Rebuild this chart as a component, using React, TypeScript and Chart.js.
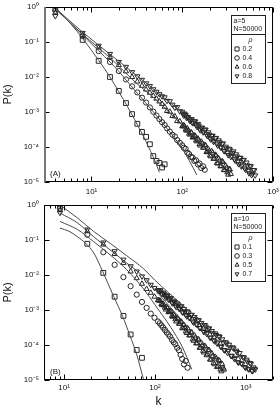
import React, { useEffect, useRef } from 'react';
import { Chart, registerables } from 'chart.js';

Chart.register(...registerables);

// ---------------- Panel A : a=5, N=50000 ----------------
const kA = [4, 8, 12, 16, 20, 24, 28, 32, 36, 40, 44, 48, 52, 56, 60, 64, 68, 73, 78, 83, 88, 94, 100,
  104, 109, 114, 119, 125, 130, 136, 142, 149, 155, 162, 170, 177, 185, 194, 202, 211, 221, 231, 241,
  252, 264, 275, 288, 301, 314, 328, 343, 359, 375, 392, 409, 428, 447, 467, 488, 510, 533, 557, 582, 608, 636];
const kAmid = [102, 106, 111, 116, 122, 127, 133, 139, 145, 152, 158, 166, 173, 181, 189, 198, 206, 216, 226,
  236, 246, 258, 269, 281, 294, 307, 321, 335, 351, 367, 383, 400, 418, 437, 457, 477, 499, 521, 545, 569, 595, 622];

const pA02 = [0.9, 0.115, 2.9e-2, 1.0e-2, 4.0e-3, 1.8e-3, 8.7e-4, 4.6e-4, 2.7e-4, 1.95e-4, 1.2e-4, 5.5e-5,
  4.0e-5, 3.5e-5, 2.6e-5, 3.2e-5];

const pA04 = [0.78, 0.148, 5.5e-2, 2.69e-2, 1.48e-2, 8.5e-3, 5.4e-3, 3.63e-3, 2.57e-3, 1.86e-3, 1.35e-3, 1.02e-3,
  7.9e-4, 6.3e-4, 5.1e-4, 4.27e-4, 3.39e-4, 2.75e-4, 2.24e-4, 2.0e-4, 1.58e-4, 1.32e-4, 1.12e-4,
  9.5e-5, 8.9e-5, 6.9e-5, 6.3e-5, 5.25e-5, 5.0e-5, 4.0e-5, 4.17e-5, 3.16e-5, 3.39e-5, 2.5e-5, 2.8e-5, 2.24e-5];

const pA06 = [0.68, 0.158, 6.9e-2, 3.7e-2, 2.19e-2, 1.45e-2, 1.0e-2, 7.4e-3, 5.6e-3, 4.37e-3, 3.55e-3, 2.88e-3,
  2.4e-3, 2.0e-3, 1.7e-3, 1.41e-3, 1.07e-3, 1.02e-3, 7.7e-4, 7.5e-4, 5.5e-4, 5.4e-4, 3.9e-4,
  4.17e-4, 3.16e-4, 3.39e-4, 2.4e-4, 2.63e-4, 1.86e-4, 2.14e-4, 1.55e-4, 1.74e-4, 1.2e-4, 1.43e-4, 9.5e-5,
  1.15e-4, 7.2e-5, 8.7e-5, 5.75e-5, 7.6e-5, 4.57e-5, 6.0e-5, 3.47e-5, 4.7e-5, 2.8e-5, 3.9e-5, 2.2e-5,
  2.95e-5, 1.9e-5, 2.3e-5, 1.7e-5];
const pA06mid = [3.93e-4, 3.9e-4, 2.94e-4, 2.95e-4, 2.25e-4, 2.5e-4, 1.93e-4, 2.07e-4, 1.45e-4, 1.54e-4,
  1.1e-4, 1.28e-4, 9.6e-5, 1.1e-4, 7.1e-5, 7.6e-5, 5.4e-5, 6.8e-5, 4.7e-5, 5.7e-5, 3.37e-5, 4.1e-5,
  2.86e-5, 3.7e-5, 2.18e-5, 2.56e-5, 1.62e-5, 2.3e-5];

const pA08 = [0.55, 0.182, 7.8e-2, 4.57e-2, 2.69e-2, 1.95e-2, 1.38e-2, 1.05e-2, 8.3e-3, 6.6e-3, 5.5e-3, 4.47e-3,
  3.8e-3, 3.24e-3, 2.82e-3, 2.63e-3, 2.09e-3, 2.04e-3, 1.62e-3, 1.33e-3, 1.38e-3, 1.05e-3, 1.02e-3,
  7.9e-4, 8.3e-4, 7.3e-4, 6.1e-4, 6.2e-4, 4.8e-4, 5.4e-4, 4.27e-4, 4.57e-4, 3.3e-4, 3.55e-4, 2.63e-4,
  3.1e-4, 2.34e-4, 2.63e-4, 1.82e-4, 2.09e-4, 1.41e-4, 1.78e-4, 1.26e-4, 1.55e-4, 9.8e-5, 1.2e-4, 7.8e-5,
  1.02e-4, 6.9e-5, 8.9e-5, 5.2e-5, 6.8e-5, 4.5e-5, 6.2e-5, 3.8e-5, 4.9e-5, 2.8e-5, 4.2e-5, 2.45e-5,
  3.6e-5, 2.1e-5, 2.9e-5, 1.58e-5, 2.2e-5, 1.55e-5];
const pA08mid = [8.9e-4, 9.0e-4, 6.9e-4, 7.1e-4, 5.5e-4, 6.2e-4, 4.9e-4, 5.4e-4, 3.8e-4, 4.1e-4, 3.0e-4,
  3.56e-4, 2.71e-4, 3.16e-4, 2.08e-4, 2.26e-4, 1.65e-4, 2.1e-4, 1.48e-4, 1.82e-4, 1.1e-4, 1.37e-4, 9.7e-5,
  1.27e-4, 7.6e-5, 9.2e-5, 5.9e-5, 8.5e-5, 5.6e-5, 7.5e-5, 4.1e-5, 5.4e-5, 3.24e-5, 4.9e-5, 3.0e-5, 4.3e-5,
  2.26e-5, 2.97e-5, 1.78e-5, 2.8e-5, 1.73e-5, 2.17e-5];

const fitA02K = [4, 6, 8, 12, 16, 20, 25, 30, 35, 40, 45, 50, 56];
const fitA02P = [0.93, 0.316, 0.126, 3.0e-2, 1.0e-2, 3.8e-3, 1.41e-3, 6.0e-4, 2.8e-4, 1.41e-4, 7.4e-5, 4.0e-5, 1.9e-5];
const fitA04K = [4, 8, 12, 16, 20, 30, 40, 50, 60, 80, 100, 120, 145];
const fitA04P = [0.89, 0.158, 5.6e-2, 2.69e-2, 1.45e-2, 4.17e-3, 1.78e-3, 8.9e-4, 5.0e-4, 2.0e-4, 8.9e-5, 4.0e-5, 1.58e-5];
const fitA06K = [4, 8, 16, 32, 50, 100, 200, 340];
const fitA06P = [0.89, 0.166, 3.55e-2, 6.3e-3, 2.4e-3, 4.17e-4, 7.2e-5, 1.41e-5];
const fitA08K = [4, 8, 16, 32, 50, 100, 200, 400, 640];
const fitA08P = [0.93, 0.191, 4.47e-2, 1.07e-2, 4.17e-3, 9.5e-4, 2.19e-4, 5.0e-5, 1.58e-5];

// ---------------- Panel B : a=10, N=50000 ----------------
const kB = [9, 18, 27, 36, 45, 54, 63, 72, 81, 90, 99, 108,
  113, 118, 123, 129, 135, 141, 147, 154, 161, 168, 176, 184, 192, 200, 209, 219, 229, 239, 250, 261,
  273, 285, 298, 311, 325, 340, 355, 371, 388, 405, 424, 443, 463, 483, 505, 528, 552, 577, 603, 630,
  658, 688, 719, 751, 785, 820, 857, 896, 936, 978, 1022, 1068, 1116, 1166, 1219, 1274];
const kBmid = [110, 115, 120, 126, 132, 138, 144, 150, 157, 164, 172, 180, 188, 196, 204, 214, 224, 234, 244,
  255, 267, 279, 291, 304, 318, 332, 347, 363, 379, 396, 414, 433, 453, 473, 494, 516, 540, 564, 590, 616,
  644, 673, 703, 735, 768, 802, 838, 876, 916, 957, 1000, 1045, 1092, 1141, 1192, 1246];

const pB01 = [0.91, 7.8e-2, 1.15e-2, 2.4e-3, 6.8e-4, 2.0e-4, 7.2e-5, 4.3e-5];

const pB03 = [0.794, 0.141, 4.47e-2, 1.95e-2, 8.7e-3, 4.8e-3, 2.75e-3, 1.7e-3, 1.15e-3, 7.9e-4, 6.0e-4, 4.7e-4,
  4.17e-4, 3.63e-4, 3.16e-4, 2.69e-4, 2.29e-4, 2.0e-4, 1.74e-4, 1.41e-4, 1.2e-4, 1.05e-4, 8.3e-5, 7.1e-5,
  5.25e-5, 4.0e-5, 2.8e-5, 3.5e-5, 2.24e-5];

const pB05 = [0.708, 0.178, 7.4e-2, 3.98e-2, 2.19e-2, 1.26e-2, 8.1e-3, 5.6e-3, 3.98e-3, 3.09e-3, 2.4e-3, 1.9e-3,
  1.86e-3, 1.48e-3, 1.51e-3, 1.17e-3, 1.2e-3, 8.7e-4, 9.1e-4, 6.8e-4, 7.4e-4, 5.4e-4,
  6.0e-4, 4.07e-4, 4.57e-4, 3.09e-4, 3.72e-4, 2.45e-4, 3.02e-4, 1.88e-4, 2.29e-4, 1.45e-4,
  1.86e-4, 1.12e-4, 1.45e-4, 8.4e-5, 1.15e-4, 6.8e-5, 9.4e-5, 5.1e-5, 7.2e-5, 3.85e-5,
  5.75e-5, 3.09e-5, 4.57e-5, 2.34e-5, 3.72e-5, 2.0e-5, 2.82e-5, 2.0e-5];
const pB05mid = [1.88e-3, 1.82e-3, 1.38e-3, 1.35e-3, 1.03e-3, 1.12e-3, 8.7e-4, 9.3e-4, 6.4e-4, 6.8e-4,
  4.7e-4, 5.5e-4, 4.03e-4, 4.61e-4, 2.99e-4, 3.15e-4, 2.2e-4, 2.75e-4, 1.9e-4, 2.27e-4, 1.32e-4, 1.61e-4,
  1.11e-4, 1.42e-4, 8.3e-5, 9.7e-5, 6.1e-5, 8.5e-5, 5.4e-5, 7.1e-5, 3.8e-5, 4.8e-5, 2.81e-5, 4.1e-5,
  2.48e-5, 3.48e-5, 1.77e-5, 2.26e-5];

const pB07 = [0.6, 0.2, 8.5e-2, 4.8e-2, 2.75e-2, 1.78e-2, 1.26e-2, 9.1e-3, 7.1e-3, 5.25e-3, 4.27e-3, 3.55e-3,
  3.4e-3, 3.02e-3, 3.16e-3, 2.57e-3, 2.63e-3, 2.0e-3, 2.14e-3, 1.62e-3, 1.84e-3, 1.36e-3,
  1.55e-3, 1.1e-3, 1.26e-3, 8.7e-4, 1.07e-3, 7.2e-4, 9.1e-4, 5.9e-4, 7.2e-4, 4.7e-4,
  6.3e-4, 3.9e-4, 5.1e-4, 3.05e-4, 4.27e-4, 2.57e-4, 3.72e-4, 2.09e-4, 2.95e-4, 1.62e-4,
  2.51e-4, 1.38e-4, 2.14e-4, 1.11e-4, 1.78e-4, 9.1e-5, 1.45e-4, 7.2e-5, 1.2e-4, 6.0e-5,
  1.02e-4, 4.9e-5, 8.6e-5, 4.0e-5, 6.9e-5, 3.24e-5, 5.9e-5, 3.0e-5, 4.5e-5, 2.34e-5,
  3.8e-5, 2.04e-5, 3.05e-5, 1.86e-5, 2.29e-5, 2.0e-5];
const pB07mid = [3.71e-3, 3.68e-3, 2.86e-3, 2.88e-3, 2.26e-3, 2.52e-3, 2.0e-3, 2.2e-3, 1.55e-3, 1.69e-3,
  1.21e-3, 1.44e-3, 1.09e-3, 1.28e-3, 8.5e-4, 9.2e-4, 6.6e-4, 8.5e-4, 6.0e-4, 7.3e-4, 4.39e-4, 5.5e-4,
  3.88e-4, 5.1e-4, 3.05e-4, 3.66e-4, 2.35e-4, 3.37e-4, 2.22e-4, 2.99e-4, 1.63e-4, 2.14e-4, 1.28e-4,
  1.93e-4, 1.19e-4, 1.71e-4, 8.9e-5, 1.17e-4, 7.0e-5, 1.1e-4, 6.8e-5, 8.5e-5, 4.9e-5, 8.0e-5, 4.3e-5,
  6.3e-5, 3.15e-5, 4.6e-5, 2.84e-5, 4.4e-5, 2.24e-5, 3.37e-5, 2.02e-5, 2.91e-5, 1.79e-5, 2.09e-5];

const fitB01K = [9, 11.3, 13.9, 17.2, 21.2, 26.6, 35.1, 44.1, 53.4, 63.1, 75];
const fitB01P = [0.219, 0.178, 0.126, 8.1e-2, 4.27e-2, 1.26e-2, 2.45e-3, 6.6e-4, 1.78e-4, 5.25e-5, 1.02e-5];
const fitB03K = [9, 14, 21, 32, 49, 75, 100, 150, 200, 255];
const fitB03P = [0.339, 0.2, 9.1e-2, 3.8e-2, 1.41e-2, 4.0e-3, 1.41e-3, 3.16e-4, 8.9e-5, 2.0e-5];
const fitB05K = [9, 14, 21, 32, 49, 75, 100, 200, 400, 600];
const fitB05P = [0.589, 0.309, 0.126, 5.25e-2, 2.19e-2, 8.9e-3, 3.8e-3, 5.0e-4, 7.1e-5, 1.66e-5];
const fitB07K = [9, 14, 21, 32, 49, 75, 100, 200, 400, 800, 1300];
const fitB07P = [1.0, 0.427, 0.178, 8.1e-2, 3.55e-2, 1.51e-2, 7.1e-3, 1.41e-3, 2.8e-4, 5.6e-5, 1.78e-5];

// ---------------- ticks & legend text ----------------
const yTickValues = [1e-5, 1e-4, 1e-3, 1e-2, 1e-1, 1];
const yTickLabels = ['10⁻⁵', '10⁻⁴', '10⁻³', '10⁻²', '10⁻¹', '10⁰'];
const xTickValues = [10, 100, 1000];
const xTickLabels = ['10¹', '10²', '10³'];

const legendHeadA = ['a=5', 'N=50000'];
const legendRhoA = ['0.2', '0.4', '0.6', '0.8'];
const legendHeadB = ['a=10', 'N=50000'];
const legendRhoB = ['0.1', '0.3', '0.5', '0.7'];

const FONT = '"Liberation Sans", Arial, Helvetica, sans-serif';
const MARK = '#262626';
const LINE = '#4a4a4a';
const STYLES = ['rect', 'circle', 'triangle', 'triangleDown'];
const RADII = [3.4, 2.6, 3.0, 3.0];

function pts(ks: number[], ps: number[]) {
  return ps.map((p, i) => ({ x: ks[i], y: p }));
}

function labelFor(v: number, vals: number[], labels: string[]) {
  const i = vals.findIndex((t) => Math.abs(t - v) / t < 1e-6);
  return i >= 0 ? labels[i] : '';
}

function drawMarker(ctx: CanvasRenderingContext2D, style: string, x: number, y: number, r: number) {
  ctx.beginPath();
  if (style === 'rect') {
    const s = r * Math.SQRT1_2;
    ctx.rect(x - s, y - s, 2 * s, 2 * s);
  } else if (style === 'circle') {
    ctx.arc(x, y, r, 0, Math.PI * 2);
  } else if (style === 'triangle') {
    ctx.moveTo(x, y - r);
    ctx.lineTo(x + r * 0.866, y + r * 0.5);
    ctx.lineTo(x - r * 0.866, y + r * 0.5);
    ctx.closePath();
  } else {
    ctx.moveTo(x, y + r);
    ctx.lineTo(x + r * 0.866, y - r * 0.5);
    ctx.lineTo(x - r * 0.866, y - r * 0.5);
    ctx.closePath();
  }
  ctx.stroke();
}

function decorPlugin(panelLabel: string, head: string[], rho: string[], thickLeft: boolean) {
  return {
    id: 'decor' + panelLabel,
    afterDraw(chart: any) {
      const ctx: CanvasRenderingContext2D = chart.ctx;
      const { left, right, top, bottom } = chart.chartArea;
      const xs = chart.scales.x;
      const ys = chart.scales.y;
      const L = Math.round(left) + 0.5;
      const R = Math.round(right) - 0.5;
      const T = Math.round(top) + 0.5;
      const B = Math.round(bottom) - 0.5;
      ctx.save();
      ctx.strokeStyle = '#000';
      ctx.lineWidth = 1;
      ctx.beginPath();
      for (let e = -1; e <= 4; e++) {
        for (let m = 1; m <= 9; m++) {
          const v = m * Math.pow(10, e);
          if (v < xs.min * 0.999 || v > xs.max * 1.001) continue;
          const px = Math.round(xs.getPixelForValue(v)) + 0.5;
          const len = m === 1 ? 5 : 3;
          ctx.moveTo(px, B);
          ctx.lineTo(px, B - len);
          ctx.moveTo(px, T);
          ctx.lineTo(px, T + len);
        }
      }
      for (let e = -5; e <= 0; e++) {
        const v = Math.pow(10, e);
        const py = Math.round(ys.getPixelForValue(v)) + 0.5;
        ctx.moveTo(L, py);
        ctx.lineTo(L + 5, py);
        ctx.moveTo(R, py);
        ctx.lineTo(R - 5, py);
      }
      ctx.stroke();
      ctx.beginPath();
      ctx.moveTo(L, T);
      ctx.lineTo(R, T);
      ctx.lineTo(R, B);
      ctx.lineTo(L, B);
      ctx.stroke();
      ctx.beginPath();
      if (thickLeft) {
        ctx.strokeStyle = '#777';
        ctx.lineWidth = 2;
        ctx.moveTo(L + 0.5, T - 0.5);
        ctx.lineTo(L + 0.5, B + 0.5);
      } else {
        ctx.moveTo(L, T);
        ctx.lineTo(L, B);
      }
      ctx.stroke();

      ctx.fillStyle = '#111';
      ctx.font = '8px ' + FONT;
      ctx.textBaseline = 'middle';
      ctx.textAlign = 'left';
      ctx.fillText(panelLabel, left + 6, bottom - 8);

      const bx0 = Math.round(right) - 42 + 0.5;
      const bx1 = Math.round(right) - 8 + 0.5;
      const by0 = Math.round(top) + 8 + 0.5;
      const by1 = Math.round(top) + 76 + 0.5;
      ctx.strokeStyle = '#222';
      ctx.lineWidth = 1;
      ctx.fillStyle = '#fff';
      ctx.fillRect(bx0, by0, bx1 - bx0, by1 - by0);
      ctx.strokeRect(bx0, by0, bx1 - bx0, by1 - by0);
      ctx.beginPath();
      ctx.moveTo(bx0, by0 + 19);
      ctx.lineTo(bx1, by0 + 19);
      ctx.stroke();
      ctx.fillStyle = '#222';
      ctx.font = '7px ' + FONT;
      ctx.textAlign = 'left';
      ctx.fillText(head[0], bx0 + 2, by0 + 5.5);
      ctx.fillText(head[1], bx0 + 2, by0 + 14);
      ctx.textAlign = 'center';
      ctx.font = 'italic 7px ' + FONT;
      ctx.fillText('ρ', bx0 + 19, by0 + 24.5);
      ctx.font = '7px ' + FONT;
      ctx.textAlign = 'left';
      ctx.strokeStyle = MARK;
      for (let i = 0; i < rho.length; i++) {
        const y = by0 + 33.5 + i * 9;
        drawMarker(ctx, STYLES[i], bx0 + 5.5, y, i === 0 ? 2.9 : 2.3);
        ctx.fillText(rho[i], bx0 + 11, y);
      }
      ctx.restore();
    },
  };
}

function markerDataset(data: any[], i: number) {
  const style = STYLES[i];
  return {
    data,
    showLine: false,
    pointStyle: style === 'triangleDown' ? 'triangle' : style,
    rotation: style === 'triangleDown' ? 180 : 0,
    pointRotation: style === 'triangleDown' ? 180 : 0,
    pointRadius: RADII[i],
    pointBorderColor: MARK,
    pointBackgroundColor: 'rgba(0,0,0,0)',
    pointBorderWidth: 1,
  };
}

function buildConfig(panel: 'A' | 'B') {
  const isA = panel === 'A';
  const kArr = isA ? kA : kB;
  const kMid = isA ? kAmid : kBmid;
  const series = isA ? [pA02, pA04, pA06, pA08] : [pB01, pB03, pB05, pB07];
  const mids: (number[] | null)[] = isA ? [null, null, pA06mid, pA08mid] : [null, null, pB05mid, pB07mid];
  const fits = isA
    ? [[fitA02K, fitA02P], [fitA04K, fitA04P], [fitA06K, fitA06P], [fitA08K, fitA08P]]
    : [[fitB01K, fitB01P], [fitB03K, fitB03P], [fitB05K, fitB05P], [fitB07K, fitB07P]];

  const datasets: any[] = [];
  fits.forEach(([k, p]) => {
    datasets.push({
      data: pts(k as number[], p as number[]),
      showLine: true,
      borderColor: LINE,
      borderWidth: 1,
      pointRadius: 0,
      fill: false,
      cubicInterpolationMode: 'monotone',
    });
  });
  series.forEach((p, i) => {
    datasets.push(markerDataset(pts(kArr, p), i));
    const m = mids[i];
    if (m) datasets.push(markerDataset(pts(kMid, m), i));
  });

  return {
    type: 'scatter',
    data: { datasets },
    options: {
      responsive: false,
      animation: false,
      events: [],
      layout: { padding: { top: 7, right: 6, left: 0, bottom: 0 }, autoPadding: false },
      plugins: { legend: { display: false }, tooltip: { enabled: false } },
      scales: {
        x: {
          type: 'logarithmic',
          min: isA ? 3 : 6,
          max: isA ? 1000 : 2000,
          grid: { display: false, drawTicks: false },
          border: { display: false },
          ticks: {
            autoSkip: false,
            maxRotation: 0,
            minRotation: 0,
            padding: isA ? 5 : 3,
            color: '#111',
            font: { family: FONT, size: 8 },
            callback: (v: any) => labelFor(Number(v), xTickValues, xTickLabels),
          },
          title: {
            display: !isA,
            text: 'k',
            color: '#111',
            font: { family: FONT, size: 12 },
            padding: { top: 0, bottom: 0 },
          },
          afterFit: (s: any) => {
            s.height = isA ? 18 : 29;
            s.paddingLeft = 0;
            s.paddingRight = 0;
          },
        },
        y: {
          type: 'logarithmic',
          min: 1e-5,
          max: 1,
          grid: { display: false, drawTicks: false },
          border: { display: false },
          ticks: {
            autoSkip: false,
            padding: 5,
            color: '#111',
            font: { family: FONT, size: 8 },
            callback: (v: any) => labelFor(Number(v), yTickValues, yTickLabels),
          },
          title: {
            display: true,
            text: 'P(k)',
            color: '#111',
            font: { family: FONT, size: 11 },
            padding: { top: 1, bottom: 0 },
          },
          afterFit: (s: any) => {
            s.width = 44;
            s.paddingTop = 0;
            s.paddingBottom = 0;
          },
        },
      },
    },
    plugins: [isA
      ? decorPlugin('(A)', legendHeadA, legendRhoA, true)
      : decorPlugin('(B)', legendHeadB, legendRhoB, false)],
  };
}

function Panel({ panel, top, height }: { panel: 'A' | 'B'; top: number; height: number }) {
  const ref = useRef<HTMLCanvasElement>(null);
  useEffect(() => {
    const chart = new Chart(ref.current as HTMLCanvasElement, buildConfig(panel) as any);
    return () => chart.destroy();
  }, [panel]);
  return (
    <canvas
      ref={ref}
      width={279}
      height={height}
      style={{ position: 'absolute', left: 0, top, width: 279, height }}
    />
  );
}

export default function App() {
  return (
    <div style={{ position: 'fixed', left: 0, top: 0, width: 279, height: 409, background: '#fff', overflow: 'hidden' }}>
      <Panel panel="A" top={0} height={200} />
      <Panel panel="B" top={198} height={211} />
    </div>
  );
}
